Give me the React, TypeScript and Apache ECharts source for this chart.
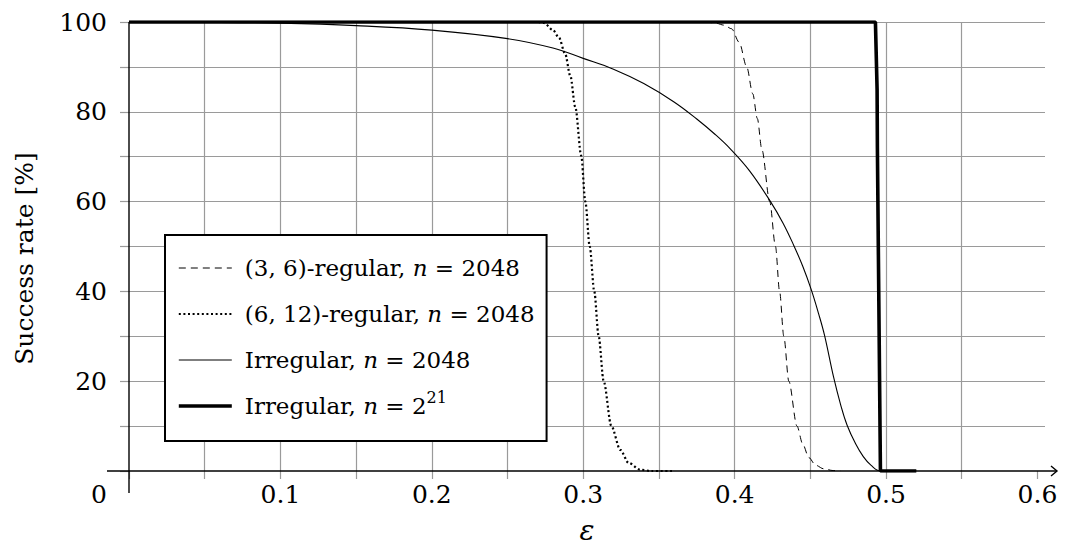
import React, { useEffect, useRef } from 'react';
import * as echarts from 'echarts';

const seriesNames = [
  '(3, 6)-regular, n = 2048',
  '(6, 12)-regular, n = 2048',
  'Irregular, n = 2048',
  'Irregular, n = 2^21',
];

// [epsilon, success rate %]
const regular36: [number, number][] = [
  [0, 100], [0.38, 100], [0.387, 99.8], [0.393, 99.3], [0.398, 98.5], [0.403, 95.5],
  [0.408, 90], [0.412, 84], [0.415, 78.5], [0.418, 71.6], [0.4232, 60], [0.427, 50],
  [0.4297, 40], [0.4325, 30], [0.4358, 20], [0.4412, 10], [0.445, 6], [0.449, 3],
  [0.4535, 1.3], [0.4587, 0.5], [0.465, 0.1], [0.47, 0],
];

const regular612: [number, number][] = [
  [0, 100], [0.27, 100], [0.274, 99.8], [0.28, 98.2], [0.284, 96.5], [0.288, 93],
  [0.2915, 88], [0.2948, 81], [0.2987, 70.2], [0.3014, 60], [0.3043, 50], [0.3073, 40],
  [0.3102, 30], [0.3135, 20], [0.3186, 10], [0.3245, 4.7], [0.33, 1.8], [0.3377, 0.3],
  [0.345, 0], [0.36, 0],
];

const irregular2048: [number, number][] = [
  [0, 100], [0.05, 99.95], [0.1, 99.75], [0.15, 99.2], [0.2, 98.2], [0.25, 96.3],
  [0.28, 94.2], [0.3, 91.9], [0.32, 89.5], [0.34, 86.3], [0.36, 82.2], [0.375, 78.4],
  [0.387, 75.0], [0.397, 71.8], [0.41, 66.8], [0.4237, 60], [0.432, 55.2], [0.439, 50.3],
  [0.445, 45.6], [0.4505, 40.5], [0.4555, 35], [0.4594, 30.2], [0.4653, 21], [0.47, 14.8],
  [0.4743, 10.2], [0.48, 6], [0.485, 3.2], [0.49, 1.3], [0.4963, 0], [0.52, 0],
];

const irregular2e21: [number, number][] = [
  [0, 100], [0.493, 100], [0.4941, 85], [0.4943, 72], [0.4963, 0], [0.52, 0],
];

const xLabelValues = [0, 0.1, 0.2, 0.3, 0.4, 0.5, 0.6];
const xTickValues = [0, 0.05, 0.1, 0.15, 0.2, 0.25, 0.3, 0.35, 0.4, 0.45, 0.5, 0.55, 0.6];
const yLabelValues = [20, 40, 60, 80, 100];

const FONT = 'DejaVu Serif';
const GRID_COLOR = '#9a9a9a';

const lineWidths = [1, 2.2, 1.1, 3.6];
const lineTypes: any[] = [[7, 5], [2, 2.6], 'solid', 'solid'];
const seriesData = [regular36, regular612, irregular2048, irregular2e21];

export default function App() {
  const ref = useRef<HTMLDivElement>(null);
  useEffect(() => {
    const chart = echarts.init(ref.current as HTMLDivElement, null, { renderer: 'svg' });
    const option: any = {
      animation: false,
      backgroundColor: '#fff',
      textStyle: { fontFamily: FONT, color: '#000' },
      grid: { left: 129, right: 23, top: 22, bottom: 74, containLabel: false },
      legend: {
        data: seriesNames.map((n, i) => ({
          name: n,
          lineStyle: { width: lineWidths[i], type: lineTypes[i], color: '#000' },
          itemStyle: { opacity: 0 },
        })),
        orient: 'vertical',
        left: 165,
        top: 235,
        padding: [16, 12, 18, 12],
        itemGap: 12,
        itemWidth: 53,
        itemHeight: 14,
        selectedMode: false,
        borderColor: '#000',
        borderWidth: 2,
        backgroundColor: '#fff',
        itemStyle: { opacity: 0 },
        textStyle: {
          fontFamily: FONT,
          fontSize: 23,
          color: '#000',
          lineHeight: 34,
          padding: [0, 0, 0, 8],
          rich: {
            i: { fontFamily: FONT, fontStyle: 'italic', fontSize: 23, lineHeight: 34 },
            s: { fontFamily: FONT, fontSize: 16, lineHeight: 28, verticalAlign: 'top' },
          },
        },
        formatter: (name: string) =>
          name.replace('n = ', '{i|n} = ').replace('2^21', '2{s|21}'),
      },
      xAxis: {
        type: 'value',
        min: 0,
        max: 0.605,
        interval: 0.05,
        name: 'ε',
        nameLocation: 'middle',
        nameGap: 45,
        nameTextStyle: { fontFamily: FONT, fontStyle: 'italic', fontSize: 28, color: '#000' },
        axisLine: { show: false },
        axisTick: {
          show: true,
          length: 8,
          customValues: xTickValues,
          lineStyle: { color: GRID_COLOR, width: 1.2 },
        },
        axisLabel: {
          customValues: xLabelValues,
          margin: 11,
          fontFamily: FONT,
          fontSize: 25,
          color: '#000',
          formatter: (v: number) => (Math.abs(v) < 1e-9 ? '{z|0}' : (Math.round(v * 10) / 10).toFixed(1)),
          rich: { z: { fontFamily: FONT, fontSize: 25, color: '#000', padding: [0, 60, 0, 0] } },
        },
        splitLine: {
          show: true,
          showMinLine: false,
          showMaxLine: false,
          lineStyle: { color: GRID_COLOR, width: 1.2 },
        },
      },
      yAxis: {
        type: 'value',
        min: 0,
        max: 100,
        interval: 10,
        name: 'Success rate [%]',
        nameLocation: 'middle',
        nameRotate: 90,
        nameGap: 92,
        nameTextStyle: { fontFamily: FONT, fontSize: 25, color: '#000', padding: [0, 24, 0, 0] },
        axisLine: { show: false },
        axisTick: { show: true, length: 9, lineStyle: { color: GRID_COLOR, width: 1.2 } },
        axisLabel: {
          customValues: yLabelValues,
          margin: 22,
          fontFamily: FONT,
          fontSize: 25,
          color: '#000',
        },
        splitLine: {
          show: true,
          showMinLine: false,
          lineStyle: { color: GRID_COLOR, width: 1.2 },
        },
      },
      series: seriesNames.map((n, i) => ({
        name: n,
        type: 'line',
        data: seriesData[i],
        showSymbol: false,
        symbol: 'none',
        smooth: i === 3 ? false : i === 2 ? 0.4 : 0.3,
        smoothMonotone: i === 2 ? undefined : 'x',
        color: '#000',
        lineStyle: { color: '#000', width: lineWidths[i], type: lineTypes[i] },
        z: i === 3 ? 4 : 3,
      })),
    };
    chart.setOption(option);

    const p0 = chart.convertToPixel({ gridIndex: 0 }, [0, 0]) as number[];
    const p1 = chart.convertToPixel({ gridIndex: 0 }, [0.605, 100]) as number[];
    const x0 = p0[0];
    const y0 = p0[1];
    const xEnd = p1[0] + 12;
    const yTop = p1[1];
    const axisStyle = { stroke: '#000', lineWidth: 1.4, fill: null };
    chart.setOption({
      graphic: [
        { type: 'line', z: 10, shape: { x1: x0 - 22, y1: y0, x2: xEnd, y2: y0 }, style: axisStyle },
        {
          type: 'polyline',
          z: 10,
          shape: { points: [[xEnd - 6, y0 - 5], [xEnd, y0], [xEnd - 6, y0 + 5]] },
          style: axisStyle,
        },
        { type: 'line', z: 10, shape: { x1: x0, y1: yTop, x2: x0, y2: y0 + 22 }, style: axisStyle },
      ],
    });
    return () => chart.dispose();
  }, []);
  return (
    <div
      ref={ref}
      style={{ position: 'fixed', left: 0, top: 0, width: 1068, height: 549, background: '#fff' }}
    />
  );
}
